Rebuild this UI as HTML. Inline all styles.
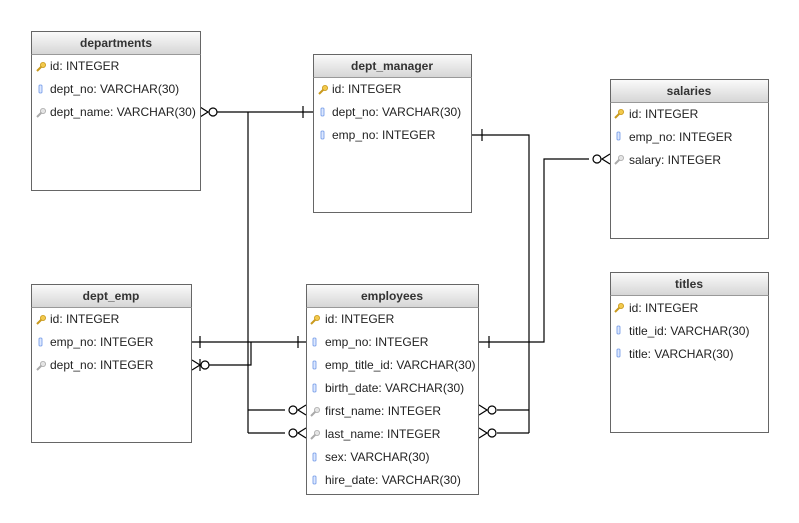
<!DOCTYPE html>
<html><head><meta charset="utf-8"><style>
html,body{margin:0;padding:0;background:#fff}
svg{display:block;font-family:"Liberation Sans",Arial,sans-serif}
.t{font-size:12px;fill:#222}
.h{font-size:12px;font-weight:bold;fill:#333}
.box{fill:#fff;stroke:#666;stroke-width:1}
.ln{stroke:#000;stroke-width:1.2;fill:none}
.c{fill:#fff;stroke:#000;stroke-width:1.2}
</style></head><body>
<svg width="799" height="523" viewBox="0 0 799 523">
<defs>
<linearGradient id="g" x1="0" y1="0" x2="0" y2="1"><stop offset="0" stop-color="#fafafa"/><stop offset="1" stop-color="#d6d6d6"/></linearGradient>
<g id="key"><circle cx="6" cy="-1" r="2.6" fill="#f2c94c" stroke="#c99a1e" stroke-width="0.8"/><path d="M4.5 0.5 L0 5" stroke="#c99a1e" stroke-width="2"/></g>
<g id="fk"><circle cx="6" cy="-1" r="2.6" fill="#e4e4e4" stroke="#aaa" stroke-width="0.8"/><path d="M4.5 0.5 L0 5" stroke="#aaa" stroke-width="2"/></g>
<g id="col"><rect x="2" y="-4" width="3" height="8" rx="1" fill="#dde8ff" stroke="#6e96e6" stroke-width="0.8"/></g>
</defs>

<!-- connectors -->
<g class="ln">
<path d="M217 112 H313"/><path d="M303 106 V118"/>
<path d="M248 112 V433"/>
<path d="M192 342 H306"/><path d="M200 336 V348"/><path d="M298 336 V348"/>
<path d="M209 365 H251 V342"/>
<path d="M248 410 H285"/><path d="M248 433 H285"/>
<path d="M472 135 H529 V433"/><path d="M482 129 V141"/>
<path d="M497 410 H529"/><path d="M497 433 H529"/>
<path d="M479 342 H544 V159 H589"/><path d="M489 336 V348"/>
<!-- crows -->
<path d="M200 107 L208 112 L200 117"/>
<path d="M192 360 L200 365 L192 370"/><path d="M200 359 V371"/>
<path d="M306 405 L298 410 L306 415"/><path d="M306 428 L298 433 L306 438"/>
<path d="M479 405 L487 410 L479 415"/><path d="M479 428 L487 433 L479 438"/>
<path d="M610 154 L602 159 L610 164"/>
</g>
<circle class="c" cx="213" cy="112" r="4"/>
<circle class="c" cx="205" cy="365" r="4"/>
<circle class="c" cx="293" cy="410" r="4"/><circle class="c" cx="293" cy="433" r="4"/>
<circle class="c" cx="492" cy="410" r="4"/><circle class="c" cx="492" cy="433" r="4"/>
<circle class="c" cx="597" cy="159" r="4"/>

<!-- departments -->
<rect class="box" x="31.5" y="31.5" width="169" height="159"/>
<rect x="32" y="32" width="168" height="22" fill="url(#g)"/><line x1="31.5" y1="54.5" x2="200.5" y2="54.5" stroke="#999"/>
<text class="h" x="116" y="47" text-anchor="middle">departments</text>
<use href="#key" x="37" y="66"/><text class="t" x="50" y="70">id: INTEGER</text>
<use href="#col" x="37" y="89"/><text class="t" x="50" y="93">dept_no: VARCHAR(30)</text>
<use href="#fk" x="37" y="112"/><text class="t" x="50" y="116">dept_name: VARCHAR(30)</text>

<!-- dept_manager -->
<rect class="box" x="313.5" y="54.5" width="158" height="158"/>
<rect x="314" y="55" width="157" height="22" fill="url(#g)"/><line x1="313.5" y1="77.5" x2="471.5" y2="77.5" stroke="#999"/>
<text class="h" x="392" y="70" text-anchor="middle">dept_manager</text>
<use href="#key" x="319" y="89"/><text class="t" x="332" y="93">id: INTEGER</text>
<use href="#col" x="319" y="112"/><text class="t" x="332" y="116">dept_no: VARCHAR(30)</text>
<use href="#col" x="319" y="135"/><text class="t" x="332" y="139">emp_no: INTEGER</text>

<!-- salaries -->
<rect class="box" x="610.5" y="79.5" width="158" height="159"/>
<rect x="611" y="80" width="157" height="22" fill="url(#g)"/><line x1="610.5" y1="102.5" x2="768.5" y2="102.5" stroke="#999"/>
<text class="h" x="689" y="95" text-anchor="middle">salaries</text>
<use href="#key" x="615" y="113"/><text class="t" x="629" y="118">id: INTEGER</text>
<use href="#col" x="615" y="136"/><text class="t" x="629" y="141">emp_no: INTEGER</text>
<use href="#fk" x="615" y="159"/><text class="t" x="629" y="164">salary: INTEGER</text>

<!-- titles -->
<rect class="box" x="610.5" y="272.5" width="158" height="160"/>
<rect x="611" y="273" width="157" height="22" fill="url(#g)"/><line x1="610.5" y1="295.5" x2="768.5" y2="295.5" stroke="#999"/>
<text class="h" x="689" y="288" text-anchor="middle">titles</text>
<use href="#key" x="615" y="307"/><text class="t" x="629" y="312">id: INTEGER</text>
<use href="#col" x="615" y="330"/><text class="t" x="629" y="335">title_id: VARCHAR(30)</text>
<use href="#col" x="615" y="353"/><text class="t" x="629" y="358">title: VARCHAR(30)</text>

<!-- dept_emp -->
<rect class="box" x="31.5" y="284.5" width="160" height="158"/>
<rect x="32" y="285" width="159" height="22" fill="url(#g)"/><line x1="31.5" y1="307.5" x2="191.5" y2="307.5" stroke="#999"/>
<text class="h" x="111" y="300" text-anchor="middle">dept_emp</text>
<use href="#key" x="37" y="319"/><text class="t" x="50" y="323">id: INTEGER</text>
<use href="#col" x="37" y="342"/><text class="t" x="50" y="346">emp_no: INTEGER</text>
<use href="#fk" x="37" y="365"/><text class="t" x="50" y="369">dept_no: INTEGER</text>

<!-- employees -->
<rect class="box" x="306.5" y="284.5" width="172" height="210"/>
<rect x="307" y="285" width="171" height="22" fill="url(#g)"/><line x1="306.5" y1="307.5" x2="478.5" y2="307.5" stroke="#999"/>
<text class="h" x="392" y="300" text-anchor="middle">employees</text>
<use href="#key" x="311" y="319"/><text class="t" x="325" y="323">id: INTEGER</text>
<use href="#col" x="311" y="342"/><text class="t" x="325" y="346">emp_no: INTEGER</text>
<use href="#col" x="311" y="365"/><text class="t" x="325" y="369">emp_title_id: VARCHAR(30)</text>
<use href="#col" x="311" y="388"/><text class="t" x="325" y="392">birth_date: VARCHAR(30)</text>
<use href="#fk" x="311" y="411"/><text class="t" x="325" y="415">first_name: INTEGER</text>
<use href="#fk" x="311" y="434"/><text class="t" x="325" y="438">last_name: INTEGER</text>
<use href="#col" x="311" y="457"/><text class="t" x="325" y="461">sex: VARCHAR(30)</text>
<use href="#col" x="311" y="480"/><text class="t" x="325" y="484">hire_date: VARCHAR(30)</text>
</svg>
</body></html>
